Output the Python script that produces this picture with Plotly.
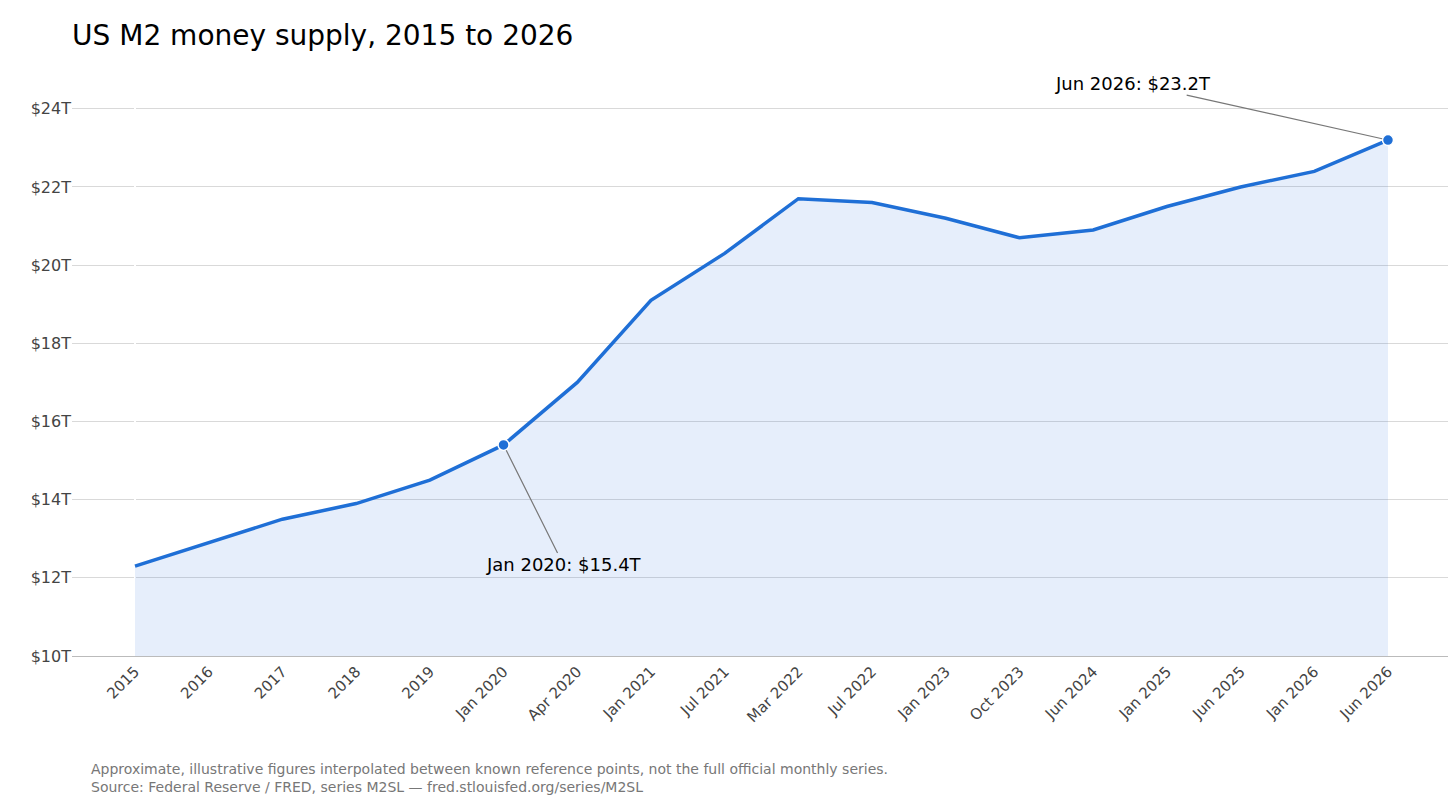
import plotly.graph_objects as go

labels = ["2015","2016","2017","2018","2019","Jan 2020","Apr 2020","Jan 2021","Jul 2021","Mar 2022",
          "Jul 2022","Jan 2023","Oct 2023","Jun 2024","Jan 2025","Jun 2025","Jan 2026","Jun 2026"]
values = [12.3,12.9,13.5,13.9,14.5,15.4,17.0,19.1,20.3,21.7,21.6,21.2,20.7,20.9,21.5,22.0,22.4,23.2]
yticks = [10,12,14,16,18,20,22,24]

x = list(range(len(labels)))
fig = go.Figure()
fig.add_trace(go.Scatter(x=x, y=values, mode="lines", fill="tozeroy",
                         fillcolor="rgba(30,100,220,0.11)",
                         line=dict(color="#1f6fd6", width=3.5), hoverinfo="skip"))
hl = [5, 17]
fig.add_trace(go.Scatter(x=[x[i] for i in hl], y=[values[i] for i in hl], mode="markers",
                         marker=dict(size=11, color="#1f6fd6", line=dict(color="white", width=1.5))))
fig.add_annotation(x=5, y=values[5], text=f"{labels[5]}: ${values[5]}T", ax=60, ay=120,
                   showarrow=True, arrowhead=0, arrowcolor="#777", arrowwidth=1.2, standoff=6,
                   font=dict(size=18, color="black"))
fig.add_annotation(x=17, y=values[17], text=f"{labels[17]}: ${values[17]}T", ax=-255, ay=-57,
                   showarrow=True, arrowhead=0, arrowcolor="#777", arrowwidth=1.2, standoff=6,
                   font=dict(size=18, color="black"))
fig.update_layout(
    width=1456, height=796, showlegend=False, plot_bgcolor="white", paper_bgcolor="white",
    font=dict(family="DejaVu Sans", color="#444"),
    title=dict(text="US M2 money supply, 2015 to 2026", x=0.044, xref="container", y=0.966,
               yanchor="middle", xanchor="left", font=dict(size=28, color="black")),
    margin=dict(l=64, r=13, t=50, b=148),
    xaxis=dict(tickvals=x, ticktext=labels, tickangle=-45, range=[-0.855, 17.855], automargin=False,
               showgrid=False, showline=True, linecolor="#bbb", tickfont=dict(size=15), ticks=""),
    yaxis=dict(tickvals=yticks, ticktext=[f"${v}T" for v in yticks], range=[10, 25.3], automargin=False,
               gridcolor="#d9d9d9", tickfont=dict(size=16), zeroline=False),
)
fig.add_annotation(xref="paper", yref="paper", x=0.012, y=-0.172, xanchor="left", yanchor="top",
                   showarrow=False, align="left",
                   text="Approximate, illustrative figures interpolated between known reference points, not the full official monthly series.<br>Source: Federal Reserve / FRED, series M2SL — fred.stlouisfed.org/series/M2SL",
                   font=dict(size=14, color="#777"))
fig.write_html("out.html")
